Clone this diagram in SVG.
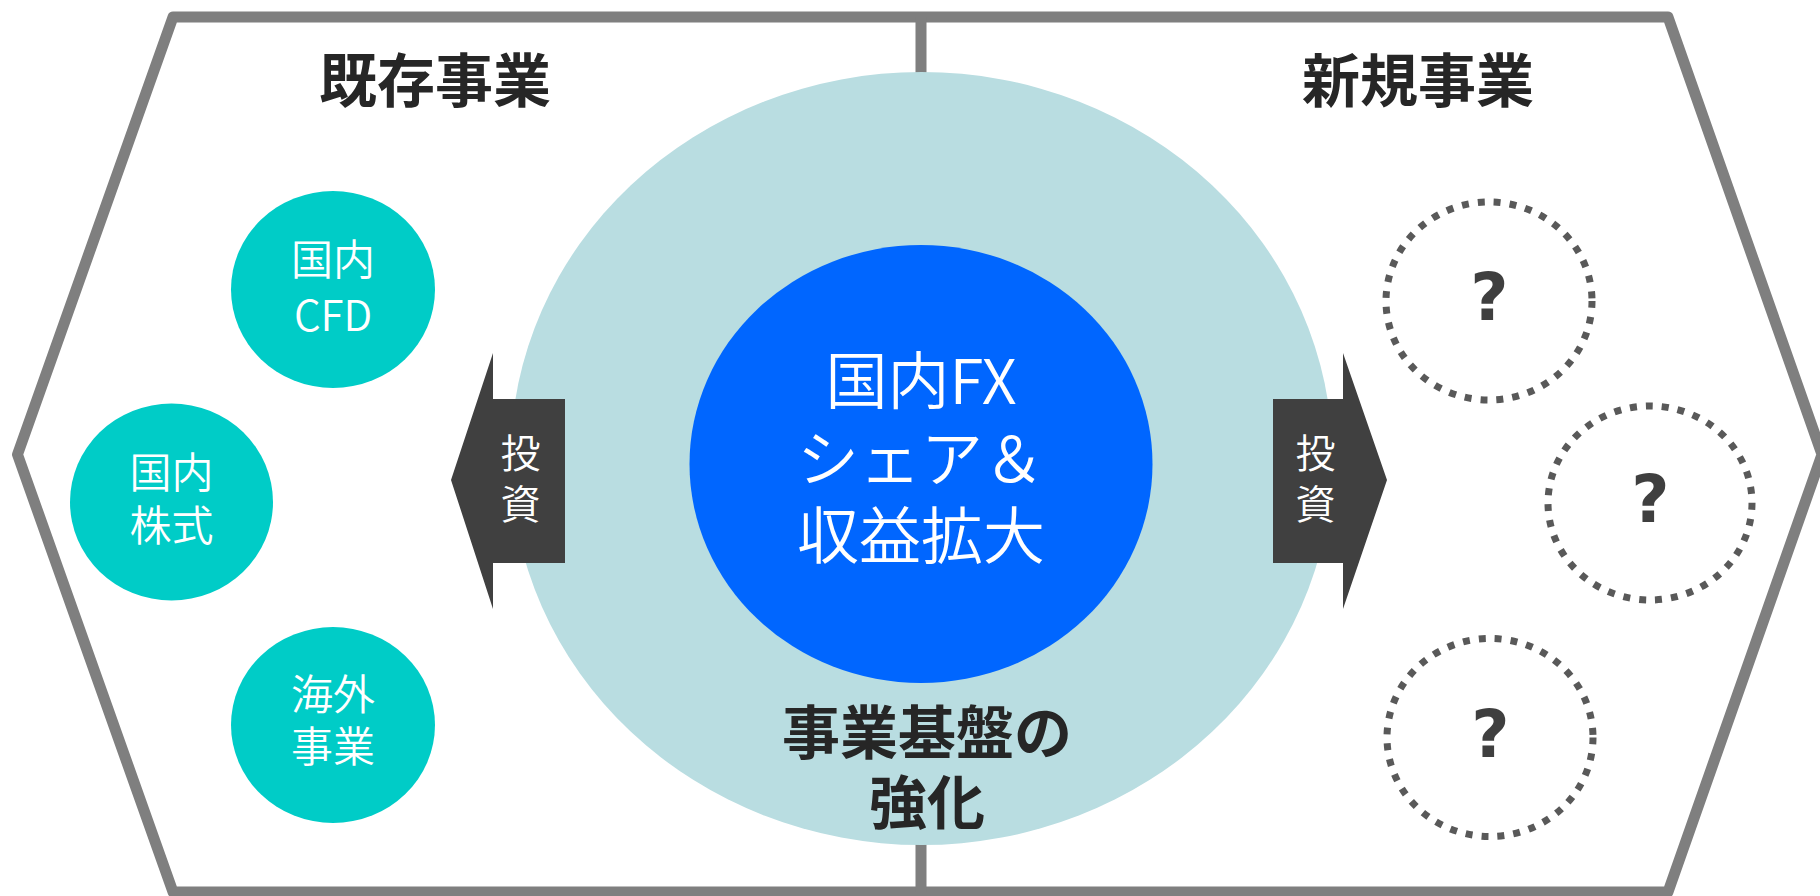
<svg xmlns="http://www.w3.org/2000/svg" width="1820" height="896" viewBox="0 0 1820 896">
<style>
.frame{fill:#ffffff;stroke:#7f7f7f;stroke-width:11;stroke-linejoin:round}
.divider{stroke:#7f7f7f;stroke-width:11}
.head{font-family:"Noto Sans CJK JP","Noto Sans CJK SC",sans-serif;font-weight:bold;fill:#262626;text-anchor:middle}
.core{font-family:"Noto Sans CJK JP","Noto Sans CJK SC",sans-serif;font-weight:350;font-size:62px;fill:#ffffff;text-anchor:middle}
.teal{fill:#00ccc7}
.tealtxt{font-family:"Noto Sans CJK JP","Noto Sans CJK SC",sans-serif;font-weight:350;font-size:42px;fill:#ffffff;text-anchor:middle}
.arrow{fill:#404040}
.arrowtxt{font-family:"Noto Sans CJK JP","Noto Sans CJK SC",sans-serif;font-weight:350;font-size:40px;fill:#ffffff;text-anchor:middle}
.dot{fill:none;stroke:#595959;stroke-width:7;stroke-dasharray:7 9}
.q{font-family:"DejaVu Sans",sans-serif;font-weight:bold;font-size:66px;fill:#3f3f3f;text-anchor:middle}
</style>
<g id="frame">
<polygon class="frame" points="173,17 1668,17 1822,454.5 1668,892 173,892 17.5,454.5"/>
<line class="divider" x1="921" y1="17" x2="921" y2="892"/>
</g>
<g id="base">
<ellipse cx="921.5" cy="458.5" rx="411" ry="386.5" fill="#b9dde1"/>
<text class="head" font-size="58"><tspan x="927" y="754">事業基盤の</tspan><tspan x="927" y="824">強化</tspan></text>
</g>
<g id="core">
<ellipse cx="921" cy="464" rx="231.5" ry="219" fill="#0066ff"/>
<text class="core"><tspan x="921" y="404">国内FX</tspan><tspan x="921" y="481.5">シェア＆</tspan><tspan x="921" y="559">収益拡大</tspan></text>
</g>
<g id="heading-existing">
<text class="head" font-size="58" x="435" y="102">既存事業</text>
</g>
<g id="heading-new">
<text class="head" font-size="58" x="1418" y="102">新規事業</text>
</g>
<g id="node-cfd">
<ellipse class="teal" cx="333" cy="289.5" rx="102" ry="98.5"/>
<text class="tealtxt"><tspan x="333" y="275">国内</tspan><tspan x="333" y="331">CFD</tspan></text>
</g>
<g id="node-stock">
<ellipse class="teal" cx="171.5" cy="502" rx="101.5" ry="98.5"/>
<text class="tealtxt"><tspan x="171.5" y="488">国内</tspan><tspan x="171.5" y="541">株式</tspan></text>
</g>
<g id="node-overseas">
<ellipse class="teal" cx="333" cy="725" rx="102" ry="98"/>
<text class="tealtxt"><tspan x="333" y="710">海外</tspan><tspan x="333" y="762">事業</tspan></text>
</g>
<g id="connectors">
<g id="arrow-left">
<path class="arrow" d="M565 399 L493 399 L493 353 L451 480 L493 609 L493 563 L565 563 Z"/>
<text class="arrowtxt"><tspan x="520.5" y="468">投</tspan><tspan x="520.5" y="519">資</tspan></text>
</g>
<g id="arrow-right">
<path class="arrow" d="M1273 399 L1343 399 L1343 353 L1387 480 L1343 609 L1343 563 L1273 563 Z"/>
<text class="arrowtxt"><tspan x="1315.5" y="468">投</tspan><tspan x="1315.5" y="519">資</tspan></text>
</g>
</g>
<g id="node-new1">
<ellipse class="dot" cx="1489" cy="301" rx="103" ry="99"/>
<text class="q" x="1489.5" y="320">?</text>
</g>
<g id="node-new2">
<ellipse class="dot" cx="1650" cy="503" rx="102" ry="97"/>
<text class="q" x="1650.5" y="522">?</text>
</g>
<g id="node-new3">
<ellipse class="dot" cx="1490" cy="737.5" rx="103" ry="99"/>
<text class="q" x="1490.5" y="756.5">?</text>
</g>
</svg>
